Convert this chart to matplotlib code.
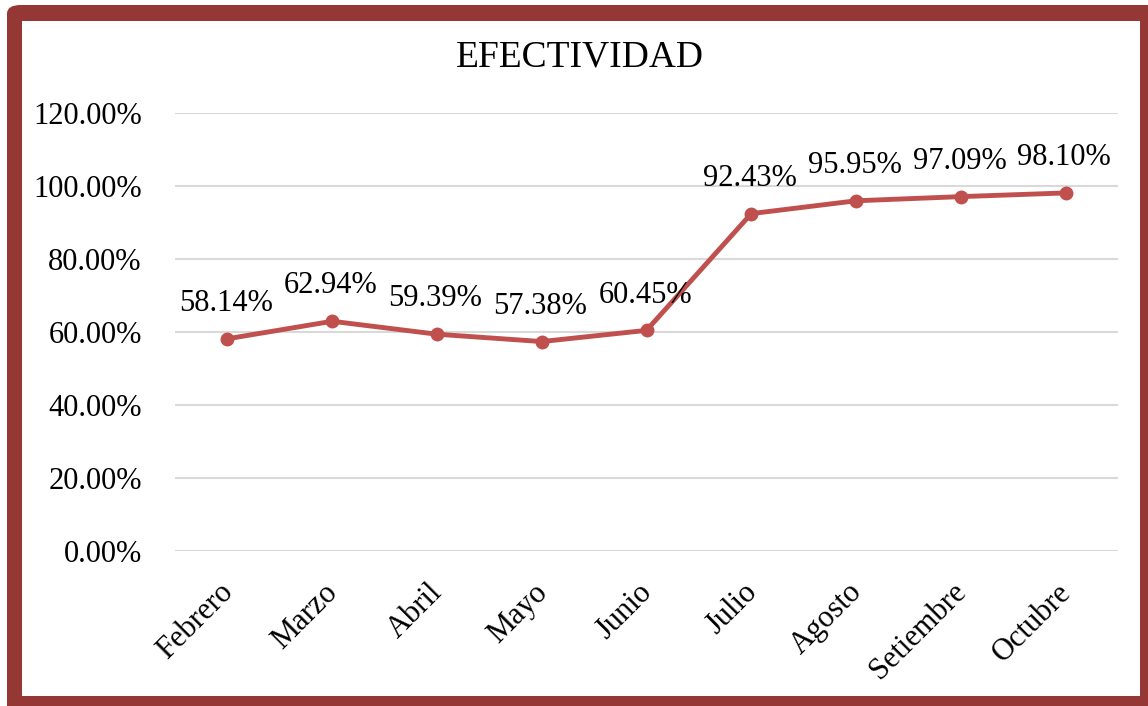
import matplotlib.pyplot as plt
import matplotlib.transforms as mtransforms
from matplotlib.patches import FancyBboxPatch, Rectangle
from matplotlib.ticker import FuncFormatter

meses = ["Febrero", "Marzo", "Abril", "Mayo", "Junio", "Julio", "Agosto", "Setiembre", "Octubre"]
efectividad = [58.14, 62.94, 59.39, 57.38, 60.45, 92.43, 95.95, 97.09, 98.10]
yticks = [0, 20, 40, 60, 80, 100, 120]

plt.rcParams['font.family'] = ['Liberation Serif', 'DejaVu Serif']

W, H = 1148, 706
fig = plt.figure(figsize=(11.48, 7.06), dpi=100)

# marco rojo (solo la esquina superior izquierda es redondeada, el resto se sale de la imagen)
fondo = FancyBboxPatch((7 / W, -30 / H), 1170 / W, (H - 5 + 30) / H,
                       boxstyle="round,pad=0,rounding_size=0.012",
                       transform=fig.transFigure, facecolor="#953735",
                       edgecolor="none", zorder=-2)
interior = Rectangle((22 / W, (H - 696) / H), (1140 - 22) / W, (696 - 21) / H,
                     transform=fig.transFigure, facecolor="white",
                     edgecolor="none", zorder=-1)
fig.patches.extend([fondo, interior])

ax = fig.add_axes([175 / W, (H - 551) / H, (1118 - 175) / W, 438 / H])

x = list(range(len(meses)))
ax.plot(x, efectividad, color="#C0504D", lw=3.5, marker="o", markersize=9, zorder=3)
for xi, v in zip(x, efectividad):
    ax.annotate(f"{v:.2f}%", (xi, v), xytext=(-1, 15), textcoords="offset points",
                ha="center", va="bottom", fontsize=22)

ax.set_xlim(-0.5, len(meses) - 0.5)
ax.set_ylim(0, 120)
ax.set_yticks(yticks)
ax.yaxis.set_major_formatter(FuncFormatter(lambda v, p: f"{v:.2f}%"))
ax.set_xticks(x)
ax.set_xticklabels(meses, rotation=45, ha="right", va="top", rotation_mode="anchor")
ax.tick_params(length=0, labelsize=22)
ax.tick_params(axis="y", pad=24)
ax.tick_params(axis="x", pad=12)
desplaza = mtransforms.ScaledTranslation(-9 / 100, -10 / 100, fig.dpi_scale_trans)
for lab in ax.get_xticklabels():
    lab.set_transform(lab.get_transform() + desplaza)
ax.grid(axis="y", color="#D9D9D9", lw=1.5)
ax.set_axisbelow(True)
ax.set_facecolor("none")
for s in ax.spines.values():
    s.set_visible(False)

fig.text(580 / W, 1 - 57 / H, "EFECTIVIDAD", ha="center", va="center", fontsize=27)

fig.savefig("out.png", dpi=100)
